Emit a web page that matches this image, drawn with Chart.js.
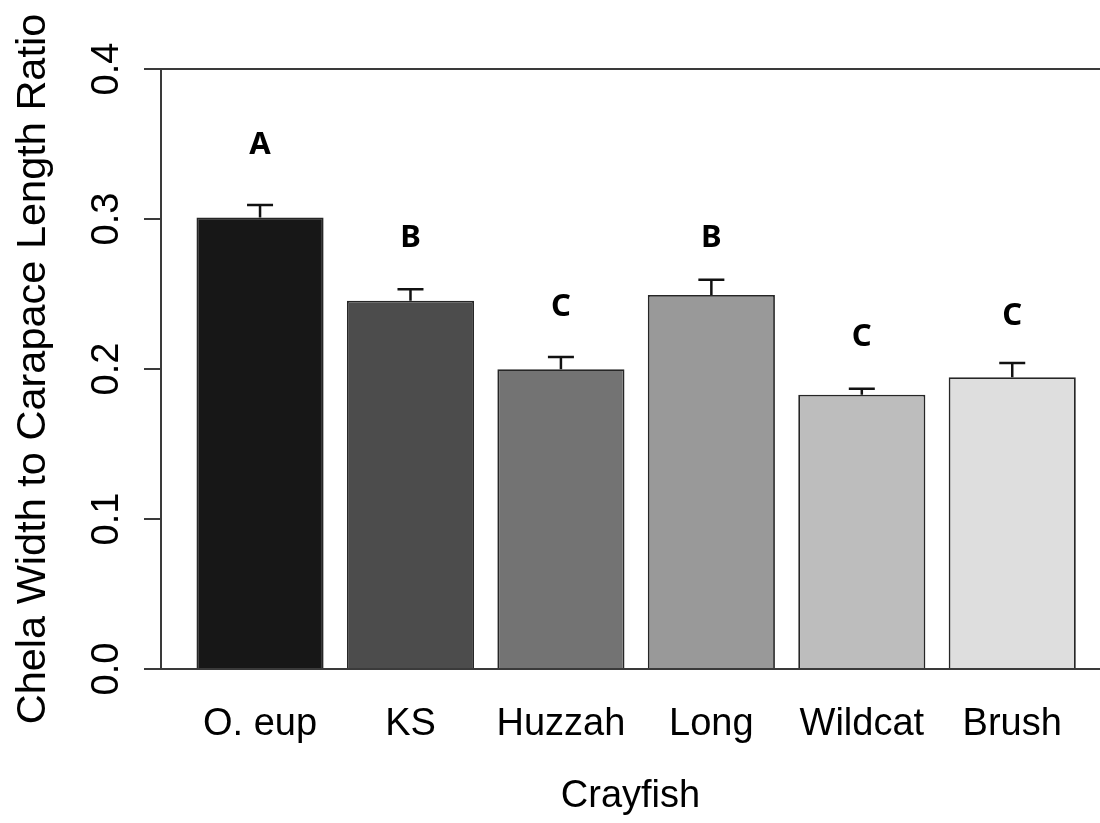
<!DOCTYPE html>
<html>
<head>
<meta charset="utf-8">
<script src="https://cdn.jsdelivr.net/npm/chart.js@4.4.1/dist/chart.umd.min.js"></script>
<style>
  body { margin: 0; background: #fff; }
  canvas { display: block; }
</style>
</head>
<body>
<canvas id="chart" width="1100" height="823"></canvas>
<script>
// data
const categories = ["O. eup", "KS", "Huzzah", "Long", "Wildcat", "Brush"];
const means = [0.301, 0.2455, 0.1998, 0.2493, 0.1829, 0.1945];
const upperErr = [0.3093, 0.2531, 0.208, 0.2595, 0.1869, 0.204];
const groupLetters = ["A", "B", "C", "B", "C", "C"];
const letterY = [0.349, 0.287, 0.2413, 0.287, 0.221, 0.2355];
const yTicks = [0, 0.1, 0.2, 0.3, 0.4];
const yTickLabels = ["0.0", "0.1", "0.2", "0.3", "0.4"];
const barColors = ["#171717", "#4c4c4c", "#737373", "#999999", "#bdbdbd", "#dedede"];

// barplot layout: width 1, space 0.2
const barPos = categories.map((c, i) => 0.7 + i * 1.2);

const axisColor = "#3a3a3a";
const font = "'Liberation Sans', Arial, sans-serif";

// error bars + significance letters
const extras = {
  id: "extras",
  afterDatasetsDraw(chart) {
    const ctx = chart.ctx;
    const y = chart.scales.y;
    const bars = chart.getDatasetMeta(0).data;
    ctx.save();
    ctx.strokeStyle = "#111";
    ctx.lineWidth = 2.5;
    bars.forEach((bar, i) => {
      const top = y.getPixelForValue(means[i]);
      const cap = y.getPixelForValue(upperErr[i]);
      ctx.beginPath();
      ctx.moveTo(bar.x, top);
      ctx.lineTo(bar.x, cap);
      ctx.moveTo(bar.x - 13, cap);
      ctx.lineTo(bar.x + 13, cap);
      ctx.stroke();
    });
    ctx.fillStyle = "#000";
    ctx.font = "bold 31px 'Noto Sans', sans-serif";
    ctx.textAlign = "center";
    ctx.textBaseline = "middle";
    bars.forEach((bar, i) => {
      ctx.fillText(groupLetters[i], bar.x, y.getPixelForValue(letterY[i]));
    });
    ctx.restore();
  },
  afterDraw(chart) {
    // rotated y tick labels and y title, like R's las=0
    const ctx = chart.ctx;
    const y = chart.scales.y;
    const area = chart.chartArea;
    ctx.save();
    ctx.fillStyle = "#000";
    ctx.textAlign = "center";
    ctx.textBaseline = "alphabetic";
    ctx.font = "38px " + font;
    yTicks.forEach((t, i) => {
      ctx.save();
      ctx.translate(118, y.getPixelForValue(t));
      ctx.rotate(-Math.PI / 2);
      ctx.fillText(yTickLabels[i], 0, 0);
      ctx.restore();
    });
    ctx.font = "41.5px " + font;
    ctx.translate(45, (area.top + area.bottom) / 2);
    ctx.rotate(-Math.PI / 2);
    ctx.fillText("Chela Width to Carapace Length Ratio", 0, 0);
    ctx.restore();
  }
};

new Chart(document.getElementById("chart"), {
  type: "bar",
  data: {
    datasets: [{
      data: barPos.map((x, i) => ({ x: x, y: means[i] })),
      backgroundColor: barColors,
      borderColor: "#262626",
      borderWidth: 1.8,
      categoryPercentage: 1,
      barPercentage: 0.845
    }]
  },
  options: {
    responsive: false,
    animation: false,
    layout: { padding: { top: 69, left: 0, right: 0, bottom: 0 } },
    plugins: { legend: { display: false }, tooltip: { enabled: false } },
    scales: {
      x: {
        type: "linear",
        min: -0.09,
        max: 7.4,
        offset: false,
        bounds: "data",
        grid: { display: false, offset: false },
        border: { display: false },
        afterBuildTicks: (scale) => { scale.ticks = barPos.map(v => ({ value: v })); },
        afterFit: (scale) => { scale.height = 154; },
        ticks: {
          autoSkip: false,
          maxRotation: 0,
          padding: 25,
          color: "#000",
          font: { family: font, size: 38 },
          callback: (value, index) => categories[index]
        },
        title: {
          display: true,
          text: "Crayfish",
          color: "#000",
          font: { family: font, size: 38 },
          padding: { top: 0, bottom: 4 }
        }
      },
      y: {
        min: 0,
        max: 0.4,
        afterBuildTicks: (scale) => { scale.ticks = yTicks.map(v => ({ value: v })); },
        afterFit: (scale) => { scale.width = 161; },
        border: { display: true, color: axisColor, width: 2 },
        grid: {
          color: (c) => (c.tick && (c.tick.value === 0 || c.tick.value === 0.4)) ? axisColor : "rgba(0,0,0,0)",
          tickColor: axisColor,
          tickLength: 17,
          lineWidth: 2
        },
        ticks: { display: false }
      }
    }
  },
  plugins: [extras]
});
</script>
</body>
</html>
